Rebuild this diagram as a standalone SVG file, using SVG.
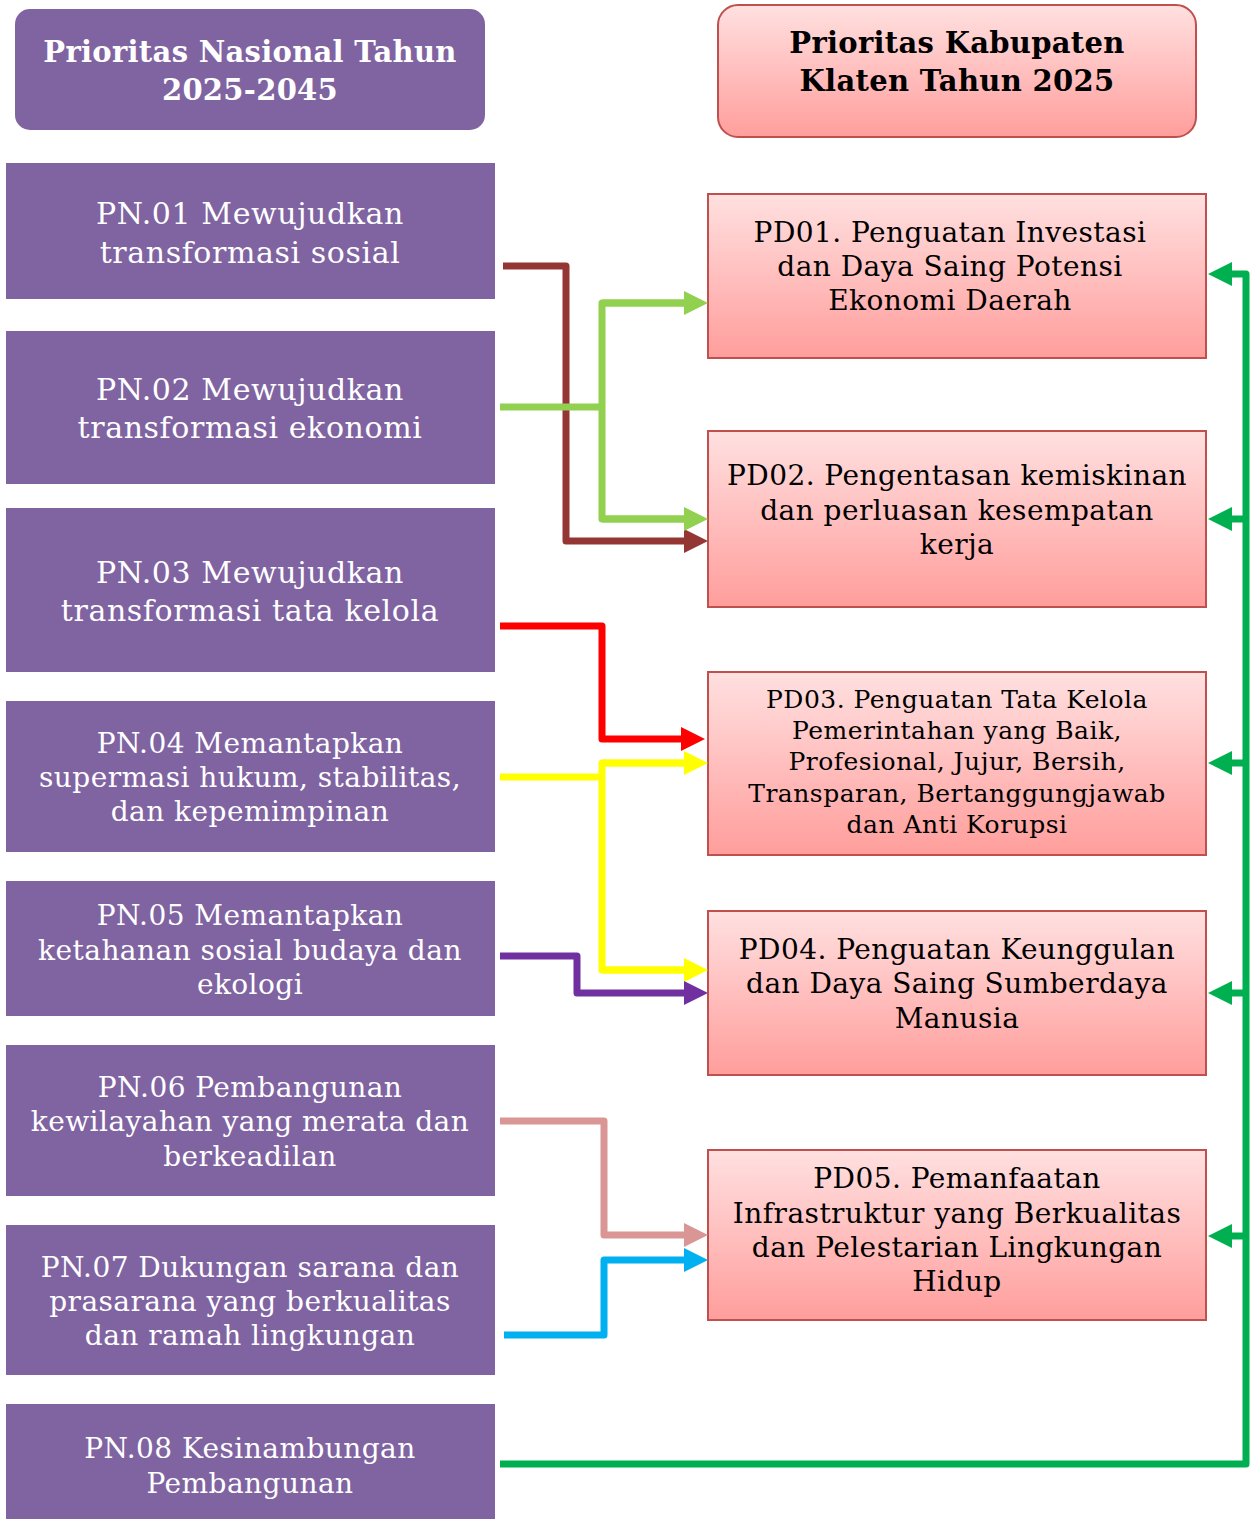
<svg xmlns="http://www.w3.org/2000/svg" width="1251" height="1519" viewBox="0 0 1251 1519">
<defs>
<linearGradient id="pink" x1="0" y1="0" x2="0" y2="1">
<stop offset="0" stop-color="#FFE0E0"/>
<stop offset="1" stop-color="#FF9E9C"/>
</linearGradient>
<marker id="aBrown" markerUnits="userSpaceOnUse" markerWidth="24" markerHeight="24" viewBox="0 0 24 24" refX="4" refY="12" orient="auto"><path d="M0,0 L24,12 L0,24 z" fill="#943634"/></marker>
<marker id="aLime" markerUnits="userSpaceOnUse" markerWidth="24" markerHeight="24" viewBox="0 0 24 24" refX="4" refY="12" orient="auto"><path d="M0,0 L24,12 L0,24 z" fill="#92D050"/></marker>
<marker id="aRed" markerUnits="userSpaceOnUse" markerWidth="24" markerHeight="24" viewBox="0 0 24 24" refX="4" refY="12" orient="auto"><path d="M0,0 L24,12 L0,24 z" fill="#FF0000"/></marker>
<marker id="aYellow" markerUnits="userSpaceOnUse" markerWidth="24" markerHeight="24" viewBox="0 0 24 24" refX="4" refY="12" orient="auto"><path d="M0,0 L24,12 L0,24 z" fill="#FFFF00"/></marker>
<marker id="aPurple" markerUnits="userSpaceOnUse" markerWidth="24" markerHeight="24" viewBox="0 0 24 24" refX="4" refY="12" orient="auto"><path d="M0,0 L24,12 L0,24 z" fill="#7030A0"/></marker>
<marker id="aRose" markerUnits="userSpaceOnUse" markerWidth="24" markerHeight="24" viewBox="0 0 24 24" refX="4" refY="12" orient="auto"><path d="M0,0 L24,12 L0,24 z" fill="#D99694"/></marker>
<marker id="aBlue" markerUnits="userSpaceOnUse" markerWidth="24" markerHeight="24" viewBox="0 0 24 24" refX="4" refY="12" orient="auto"><path d="M0,0 L24,12 L0,24 z" fill="#00B0F0"/></marker>
<marker id="aGreen" markerUnits="userSpaceOnUse" markerWidth="24" markerHeight="24" viewBox="0 0 24 24" refX="4" refY="12" orient="auto"><path d="M0,0 L24,12 L0,24 z" fill="#00B050"/></marker>
</defs>
<style>
.pn{fill:#8064A2}
.pd{fill:url(#pink);stroke:#C0504D;stroke-width:2}
.tw{fill:#FFFFFF;font-family:"DejaVu Serif","Liberation Serif",serif;text-anchor:middle}
.tb{fill:#000000;font-family:"DejaVu Serif","Liberation Serif",serif;text-anchor:middle}
.hd{font-weight:bold;font-size:29px;letter-spacing:0.3px}
.l{font-size:30px;letter-spacing:0.6px}
.m{font-size:28px;letter-spacing:0.45px}
.s{font-size:25px;letter-spacing:0.5px}
.c{fill:none;stroke-width:7;stroke-linejoin:round}
</style>
<rect width="1251" height="1519" fill="#FFFFFF"/>

<g id="header-left">
<rect x="15" y="9" width="470" height="121" rx="15" class="pn"/>
<text class="tw hd" x="250" y="62">Prioritas Nasional Tahun</text>
<text class="tw hd" x="250" y="100">2025-2045</text>
</g>
<g id="header-right">
<rect x="718" y="5" width="478" height="132" rx="20" class="pd"/>
<text class="tb hd" x="957" y="53">Prioritas Kabupaten</text>
<text class="tb hd" x="957" y="91">Klaten Tahun 2025</text>
</g>

<g id="PN01">
<rect x="6" y="163" width="489" height="136" class="pn"/>
<text class="tw l" x="250" y="224">PN.01 Mewujudkan</text>
<text class="tw l" x="250" y="263">transformasi sosial</text>
</g>
<g id="PN02">
<rect x="6" y="331" width="489" height="153" class="pn"/>
<text class="tw l" x="250" y="400">PN.02 Mewujudkan</text>
<text class="tw l" x="250" y="438">transformasi ekonomi</text>
</g>
<g id="PN03">
<rect x="6" y="508" width="489" height="164" class="pn"/>
<text class="tw l" x="250" y="583">PN.03 Mewujudkan</text>
<text class="tw l" x="250" y="621">transformasi tata kelola</text>
</g>
<g id="PN04">
<rect x="6" y="701" width="489" height="151" class="pn"/>
<text class="tw m" x="250" y="753">PN.04 Memantapkan</text>
<text class="tw m" x="250" y="787">supermasi hukum, stabilitas,</text>
<text class="tw m" x="250" y="821">dan kepemimpinan</text>
</g>
<g id="PN05">
<rect x="6" y="881" width="489" height="135" class="pn"/>
<text class="tw m" x="250" y="925">PN.05 Memantapkan</text>
<text class="tw m" x="250" y="960">ketahanan sosial budaya dan</text>
<text class="tw m" x="250" y="994">ekologi</text>
</g>
<g id="PN06">
<rect x="6" y="1045" width="489" height="151" class="pn"/>
<text class="tw m" x="250" y="1097">PN.06 Pembangunan</text>
<text class="tw m" x="250" y="1131">kewilayahan yang merata dan</text>
<text class="tw m" x="250" y="1166">berkeadilan</text>
</g>
<g id="PN07">
<rect x="6" y="1225" width="489" height="150" class="pn"/>
<text class="tw m" x="250" y="1277">PN.07 Dukungan sarana dan</text>
<text class="tw m" x="250" y="1311">prasarana yang berkualitas</text>
<text class="tw m" x="250" y="1345">dan ramah lingkungan</text>
</g>
<g id="PN08">
<rect x="6" y="1404" width="489" height="115" class="pn"/>
<text class="tw m" x="250" y="1458">PN.08 Kesinambungan</text>
<text class="tw m" x="250" y="1493">Pembangunan</text>
</g>

<g id="PD01">
<rect x="708" y="194" width="498" height="164" class="pd"/>
<text class="tb m" x="950" y="242">PD01. Penguatan Investasi</text>
<text class="tb m" x="950" y="276">dan Daya Saing Potensi</text>
<text class="tb m" x="950" y="310">Ekonomi Daerah</text>
</g>
<g id="PD02">
<rect x="708" y="431" width="498" height="176" class="pd"/>
<text class="tb m" x="957" y="485">PD02. Pengentasan kemiskinan</text>
<text class="tb m" x="957" y="520">dan perluasan kesempatan</text>
<text class="tb m" x="957" y="554">kerja</text>
</g>
<g id="PD03">
<rect x="708" y="672" width="498" height="183" class="pd"/>
<text class="tb s" x="957" y="708">PD03. Penguatan Tata Kelola</text>
<text class="tb s" x="957" y="739">Pemerintahan yang Baik,</text>
<text class="tb s" x="957" y="770">Profesional, Jujur, Bersih,</text>
<text class="tb s" x="957" y="802">Transparan, Bertanggungjawab</text>
<text class="tb s" x="957" y="833">dan Anti Korupsi</text>
</g>
<g id="PD04">
<rect x="708" y="911" width="498" height="164" class="pd"/>
<text class="tb m" x="957" y="959">PD04. Penguatan Keunggulan</text>
<text class="tb m" x="957" y="993">dan Daya Saing Sumberdaya</text>
<text class="tb m" x="957" y="1028">Manusia</text>
</g>
<g id="PD05">
<rect x="708" y="1150" width="498" height="170" class="pd"/>
<text class="tb m" x="957" y="1188">PD05. Pemanfaatan</text>
<text class="tb m" x="957" y="1223">Infrastruktur yang Berkualitas</text>
<text class="tb m" x="957" y="1257">dan Pelestarian Lingkungan</text>
<text class="tb m" x="957" y="1291">Hidup</text>
</g>

<g id="connectors">
<path class="c" stroke="#943634" d="M503,266 H566 V541 H688" marker-end="url(#aBrown)"/>
<path class="c" stroke="#92D050" d="M500,407 H602"/>
<path class="c" stroke="#92D050" d="M688,303 H602 V519 H688"/>
<path class="c" stroke="#92D050" d="M602,303 H688" marker-end="url(#aLime)"/>
<path class="c" stroke="#92D050" d="M602,519 H688" marker-end="url(#aLime)"/>
<path class="c" stroke="#FF0000" d="M500,626 H602 V739 H685" marker-end="url(#aRed)"/>
<path class="c" stroke="#FFFF00" d="M500,777 H602"/>
<path class="c" stroke="#FFFF00" d="M688,763 H602 V970 H688"/>
<path class="c" stroke="#FFFF00" d="M602,763 H688" marker-end="url(#aYellow)"/>
<path class="c" stroke="#FFFF00" d="M602,970 H688" marker-end="url(#aYellow)"/>
<path class="c" stroke="#7030A0" d="M500,956 H577 V993 H688" marker-end="url(#aPurple)"/>
<path class="c" stroke="#D99694" d="M500,1121 H604 V1235 H688" marker-end="url(#aRose)"/>
<path class="c" stroke="#00B0F0" d="M504,1335 H604 V1260 H688" marker-end="url(#aBlue)"/>
<path class="c" stroke="#00B050" d="M500,1464 H1246 V274 H1228" marker-end="url(#aGreen)"/>
<path class="c" stroke="#00B050" d="M1246,519 H1228" marker-end="url(#aGreen)"/>
<path class="c" stroke="#00B050" d="M1246,763 H1228" marker-end="url(#aGreen)"/>
<path class="c" stroke="#00B050" d="M1246,993 H1228" marker-end="url(#aGreen)"/>
<path class="c" stroke="#00B050" d="M1246,1236 H1228" marker-end="url(#aGreen)"/>
</g>
</svg>
